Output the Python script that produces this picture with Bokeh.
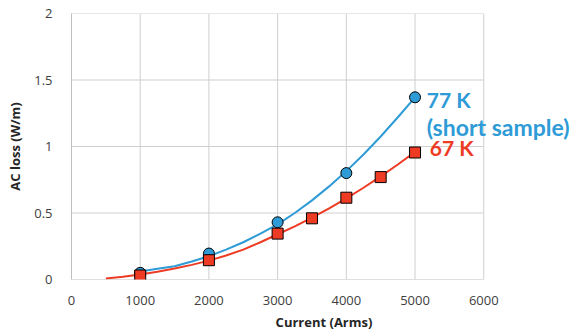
from bokeh.plotting import figure
from bokeh.models import FixedTicker, Label, Range1d
from bokeh.embed import file_html
from bokeh.resources import INLINE

# Measured points
current_77 = [1000, 2000, 3000, 4000, 5000]
loss_77 = [0.05, 0.195, 0.43, 0.80, 1.37]
current_67 = [1000, 2000, 3000, 3500, 4000, 4500, 5000]
loss_67 = [0.03, 0.145, 0.345, 0.46, 0.615, 0.77, 0.955]

# Trend curves
curve_x_77 = [1000, 1250, 1500, 1750, 2000, 2250, 2500, 2750, 3000, 3250, 3500, 3750, 4000, 4250, 4500, 4750, 5000]
curve_y_77 = [0.06, 0.08, 0.10, 0.135, 0.175, 0.225, 0.28, 0.345, 0.415, 0.50, 0.595, 0.70, 0.815, 0.94, 1.075, 1.22, 1.37]
curve_x_67 = [500, 750, 1000, 1250, 1500, 1750, 2000, 2250, 2500, 2750, 3000, 3250, 3500, 3750, 4000, 4250, 4500, 4750, 5000]
curve_y_67 = [0.008, 0.02, 0.037, 0.058, 0.082, 0.11, 0.142, 0.18, 0.225, 0.28, 0.34, 0.40, 0.465, 0.535, 0.61, 0.69, 0.775, 0.865, 0.96]

x_ticks = [0, 1000, 2000, 3000, 4000, 5000, 6000]
y_ticks = [0, 0.5, 1, 1.5, 2]
x_max = 6000
y_max = 2

BLUE = "#2E9BD6"
RED = "#EE3B24"
GRID = "#CFCFCF"
FONT = "Open Sans"
LABEL_FONT = "Lato"

p = figure(width=576, height=333, output_backend="svg", toolbar_location=None,
           x_range=Range1d(0, 7350), y_range=Range1d(0, 2),
           min_border_left=71, min_border_right=0, min_border_top=13, min_border_bottom=54)
p.outline_line_color = None
p.background_fill_color = "white"
p.border_fill_color = "white"

p.xaxis.ticker = FixedTicker(ticks=x_ticks)
p.yaxis.ticker = FixedTicker(ticks=y_ticks)
p.xaxis.major_label_overrides = {t: str(t) for t in x_ticks}
p.yaxis.major_label_overrides = {0: "0", 0.5: "0.5", 1: "1", 1.5: "1.5", 2: "2"}

for ax in (p.xaxis[0], p.yaxis[0]):
    ax.axis_line_color = "#BFBFBF"
    ax.axis_line_width = 1
    ax.major_tick_line_color = None
    ax.minor_tick_line_color = None
    ax.major_label_text_font = FONT
    ax.major_label_text_font_size = "13px"
    ax.major_label_text_color = "#404040"
    ax.axis_label_text_font = FONT
    ax.axis_label_text_font_size = "13px"
    ax.axis_label_text_font_style = "bold"
    ax.axis_label_text_color = "#262626"

p.xaxis.axis_line_color = None
p.xaxis.axis_label = "Current (Arms)"
p.yaxis.axis_label = "AC loss (W/m)"
p.xaxis.major_label_standoff = 10
p.xaxis.axis_label_standoff = 5
p.yaxis.major_label_standoff = 13
p.yaxis.axis_label_standoff = 7

p.xgrid.grid_line_color = None
p.ygrid.grid_line_color = None

# grid lines limited to the 0..6000 x 0..2 area
p.segment(x0=x_ticks, y0=[0] * len(x_ticks), x1=x_ticks, y1=[y_max] * len(x_ticks),
          line_color=GRID, line_width=1)
p.segment(x0=[0] * len(y_ticks), y0=y_ticks, x1=[x_max] * len(y_ticks), y1=y_ticks,
          line_color=["#BFBFBF" if t == 0 else GRID for t in y_ticks], line_width=1)

p.line(curve_x_77, curve_y_77, line_color=BLUE, line_width=2)
p.line(curve_x_67, curve_y_67, line_color=RED, line_width=2)
p.scatter(current_77, loss_77, marker="circle", size=11, fill_color=BLUE, line_color="black", line_width=1)
p.scatter(current_67, loss_67, marker="square", size=11, fill_color=RED, line_color="black", line_width=1)

lab_kw = dict(text_font=LABEL_FONT, text_font_style="bold", text_baseline="alphabetic")
p.add_layout(Label(x=5170, y=loss_77[-1], text="77 K", text_color=BLUE, y_offset=-2,
                   text_font_size="21px", **lab_kw))
p.add_layout(Label(x=5170, y=loss_77[-1], text="(short sample)", text_color=BLUE, y_offset=-30,
                   text_font_size="23px", **lab_kw))
p.add_layout(Label(x=5215, y=loss_67[-1], text="67 K", text_color=RED, y_offset=5,
                   text_font_size="21px", **lab_kw))

open("out.html", "w").write(file_html(p, INLINE))
